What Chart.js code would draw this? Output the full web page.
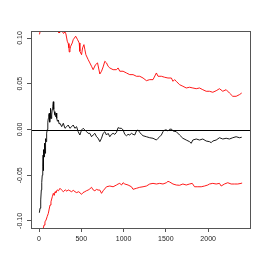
<!DOCTYPE html>
<html lang="en">
<head>
    <meta charset="UTF-8">
    <title>Running estimate with bounds</title>
    <script src="https://cdn.jsdelivr.net/npm/chart.js"></script>
    <style>
        body {
            margin: 0;
            padding: 0;
            background: #fff;
        }
        #wrap {
            width: 267px;
            height: 267px;
        }
    </style>
</head>
<body>
    <div id="wrap"><canvas id="plot" width="267" height="267"></canvas></div>
    <script>
        // running estimate (black)
        const estX = [4, 12, 20, 27, 32, 38, 44, 48, 51, 55, 60, 65, 71, 77, 83, 90, 98, 104, 110, 115,
            121, 126, 130, 134, 138, 144, 150, 156, 162, 169, 174, 180, 188, 197, 203, 209, 218, 228, 238, 248,
            268, 287, 307, 327, 345, 365, 386, 404, 424, 444, 463, 483, 503, 522, 542, 562, 581, 601, 621, 640,
            660, 680, 699, 719, 739, 758, 778, 798, 817, 837, 857, 876, 896, 916, 935, 955, 975, 994, 1014, 1034,
            1053, 1073, 1093, 1112, 1132, 1152, 1171, 1191, 1211, 1230, 1270, 1309, 1348, 1388, 1407, 1427, 1447, 1466, 1486, 1506,
            1525, 1545, 1565, 1584, 1623, 1662, 1701, 1741, 1780, 1800, 1819, 1859, 1898, 1937, 1977, 2016, 2036, 2055, 2095, 2134,
            2173, 2213, 2252, 2291, 2331, 2370, 2397];
        const estY = [-0.091, -0.086, -0.077, -0.066, -0.058, -0.05, -0.04, -0.028, -0.045, -0.022, -0.03, -0.015, -0.026, -0.01, -0.0133, -0.004, 0, 0.008, 0.0122, 0.016,
            0.0177, 0.008, 0.0122, 0.02, 0.0232, 0.012, 0.0159, 0.022, 0.025, 0.0304, 0.022, 0.0195, 0.016, 0.014, 0.018, 0.0122, 0.009, 0.0104, 0.006, 0.0068,
            0.0031, 0.0068, 0.0013, 0.0031, 0.0049, 0.0013, 0.0031, 0.0049, 0.0013, 0.0031, -0.0024, -0.006, -0.0005, 0.0013, -0.0005, -0.0024, -0.0042, -0.0042, -0.0079, -0.006,
            -0.0042, -0.0079, -0.0096, -0.0133, -0.0096, -0.0042, -0.0024, -0.006, -0.0042, -0.0079, -0.0053, -0.0042, -0.0053, -0.0031, 0.002, 0.0013, 0.0013, -0.0005, -0.0053, -0.0068,
            -0.0053, -0.006, -0.0042, -0.0053, -0.006, -0.0016, -0.0005, -0.0031, -0.0053, -0.0068, -0.0079, -0.009, -0.0096, -0.0115, -0.0096, -0.0079, -0.006, -0.0024, -0.0005, -0.0005,
            -0.0016, 0.0002, 0.0005, -0.0016, -0.0024, -0.006, -0.0096, -0.0115, -0.0133, -0.0151, -0.0115, -0.0104, -0.0115, -0.0104, -0.0126, -0.0133, -0.0144, -0.0126, -0.0115, -0.009,
            -0.0104, -0.0096, -0.0104, -0.009, -0.0079, -0.009, -0.0085];

        // upper bound (red)
        const upX = [5, 20, 40, 60, 85, 110, 140, 170, 200, 225, 236, 255, 271, 290, 307, 318, 334, 345, 354, 357,
            366, 374, 393, 404, 418, 433, 456, 475, 483, 503, 515, 531, 542, 554, 581, 601, 621, 640, 668, 692,
            719, 739, 758, 778, 798, 817, 837, 876, 916, 935, 955, 994, 1034, 1073, 1112, 1152, 1191, 1230, 1270, 1309,
            1348, 1388, 1407, 1447, 1486, 1525, 1565, 1584, 1603, 1623, 1662, 1701, 1741, 1780, 1819, 1859, 1898, 1937, 1977, 2016,
            2055, 2095, 2134, 2173, 2213, 2252, 2291, 2331, 2370, 2397];
        const upY = [0.104, 0.110, 0.118, 0.125, 0.130, 0.127, 0.122, 0.118, 0.113, 0.108, 0.1056, 0.107, 0.1078, 0.105, 0.1067, 0.1045, 0.0965, 0.094, 0.0892, 0.0848,
            0.088, 0.091, 0.0946, 0.0982, 0.1, 0.102, 0.0982, 0.0946, 0.0855, 0.0818, 0.0892, 0.0928, 0.0873, 0.0818, 0.0764, 0.0728, 0.0691, 0.0654, 0.0709, 0.0728,
            0.0607, 0.0637, 0.0684, 0.0746, 0.0728, 0.0691, 0.0673, 0.0654, 0.0654, 0.0673, 0.0637, 0.0637, 0.0618, 0.06, 0.06, 0.0582, 0.0582, 0.0563, 0.0534, 0.0545,
            0.0545, 0.0618, 0.0582, 0.0582, 0.0571, 0.0563, 0.0563, 0.0527, 0.0545, 0.0527, 0.049, 0.0473, 0.0454, 0.0462, 0.0454, 0.0446, 0.0454, 0.0435, 0.0418, 0.0418,
            0.0407, 0.0424, 0.0446, 0.0418, 0.0435, 0.0399, 0.0363, 0.0363, 0.0381, 0.0399];

        // lower bound (red)
        const lowX = [10, 25, 40, 59, 70, 83, 97, 110, 120, 130, 141, 157, 169, 180, 189, 200, 215, 230, 248, 265,
            287, 310, 330, 345, 365, 385, 405, 425, 444, 470, 503, 520, 542, 560, 581, 600, 621, 640, 660, 680,
            699, 719, 739, 758, 798, 837, 876, 916, 935, 955, 975, 994, 1014, 1053, 1093, 1112, 1152, 1191, 1230, 1270,
            1309, 1348, 1388, 1427, 1466, 1506, 1525, 1545, 1584, 1623, 1662, 1701, 1741, 1780, 1812, 1839, 1878, 1918, 1957, 1996,
            2016, 2055, 2095, 2134, 2154, 2193, 2232, 2272, 2311, 2350, 2390, 2397];
        const lowY = [-0.13, -0.122, -0.112, -0.1045, -0.101, -0.099, -0.095, -0.0917, -0.087, -0.0826, -0.079, -0.0735, -0.0698, -0.072, -0.068, -0.069, -0.066, -0.067, -0.0643, -0.066,
            -0.068, -0.066, -0.0675, -0.066, -0.067, -0.068, -0.0665, -0.068, -0.069, -0.068, -0.0709, -0.069, -0.068, -0.067, -0.0662, -0.065, -0.0632, -0.066, -0.067, -0.0655,
            -0.0662, -0.0662, -0.0698, -0.067, -0.0626, -0.0618, -0.0626, -0.0607, -0.0596, -0.0589, -0.0607, -0.0582, -0.0596, -0.0607, -0.0626, -0.0654, -0.0643, -0.0632, -0.0626, -0.0618,
            -0.0596, -0.0589, -0.0596, -0.0589, -0.0596, -0.0582, -0.0567, -0.0574, -0.0596, -0.0607, -0.061, -0.0596, -0.0607, -0.0596, -0.0589, -0.0626, -0.0626, -0.0626, -0.0618, -0.0607,
            -0.0596, -0.0589, -0.0596, -0.0589, -0.0618, -0.0596, -0.0582, -0.0596, -0.0596, -0.0596, -0.0589, -0.0582];

        const xTicks = [0, 500, 1000, 1500, 2000];
        const yTicks = [-0.10, -0.05, 0.00, 0.05, 0.10];

        const toPoints = (xs, ys) => xs.map((x, i) => ({ x: x, y: ys[i] }));

        const tickFont = { family: 'Liberation Sans, Arial, sans-serif', size: 7 };

        // box, zero line and rotated y labels, R style
        const rStyle = {
            id: 'rStyle',
            beforeDatasetsDraw(chart) {
                const { ctx, chartArea, scales } = chart;
                const y0 = Math.round(scales.y.getPixelForValue(0)) + 0.5;
                ctx.save();
                ctx.strokeStyle = '#000';
                ctx.lineWidth = 1;
                ctx.beginPath();
                ctx.moveTo(chartArea.left, y0);
                ctx.lineTo(chartArea.right, y0);
                ctx.stroke();
                ctx.restore();
            },
            afterDraw(chart) {
                const { ctx, chartArea, scales } = chart;
                ctx.save();
                ctx.strokeStyle = '#555';
                ctx.lineWidth = 1;
                ctx.strokeRect(Math.round(chartArea.left) + 0.5, Math.round(chartArea.top) + 0.5,
                    Math.round(chartArea.right - chartArea.left), Math.round(chartArea.bottom - chartArea.top));
                ctx.fillStyle = '#222';
                ctx.font = tickFont.size + 'px ' + tickFont.family;
                ctx.textAlign = 'center';
                ctx.textBaseline = 'middle';
                yTicks.forEach(v => {
                    const py = scales.y.getPixelForValue(v);
                    ctx.save();
                    ctx.translate(20, py);
                    ctx.rotate(-Math.PI / 2);
                    ctx.fillText(v.toFixed(2), 0, 0);
                    ctx.restore();
                });
                ctx.restore();
            }
        };

        new Chart(document.getElementById('plot'), {
            type: 'line',
            data: {
                datasets: [
                    { data: toPoints(upX, upY), borderColor: '#ff0000', borderWidth: 0.9 },
                    { data: toPoints(lowX, lowY), borderColor: '#ff0000', borderWidth: 0.9 },
                    { data: toPoints(estX, estY), borderColor: '#000000', borderWidth: 0.9 }
                ]
            },
            options: {
                responsive: false,
                animation: false,
                layout: { padding: { top: 31, right: 17, left: 0, bottom: 0 } },
                elements: { point: { radius: 0 }, line: { tension: 0 } },
                plugins: { legend: { display: false }, tooltip: { enabled: false } },
                scales: {
                    x: {
                        type: 'linear',
                        min: -95,
                        max: 2495,
                        afterBuildTicks: scale => { scale.ticks = xTicks.map(v => ({ value: v })); },
                        afterFit: scale => { scale.height = 39; },
                        grid: { drawOnChartArea: false, drawTicks: true, tickLength: 4, color: '#555' },
                        border: { display: false },
                        ticks: {
                            font: tickFont, color: '#222', padding: 3, maxRotation: 0, autoSkip: false,
                            callback: v => String(v)
                        }
                    },
                    y: {
                        min: -0.1077,
                        max: 0.1077,
                        afterBuildTicks: scale => { scale.ticks = yTicks.map(v => ({ value: v })); },
                        afterFit: scale => { scale.width = 31; },
                        grid: { drawOnChartArea: false, drawTicks: true, tickLength: 4, color: '#555' },
                        border: { display: false },
                        ticks: { display: false }
                    }
                }
            },
            plugins: [rStyle]
        });
    </script>
</body>
</html>
